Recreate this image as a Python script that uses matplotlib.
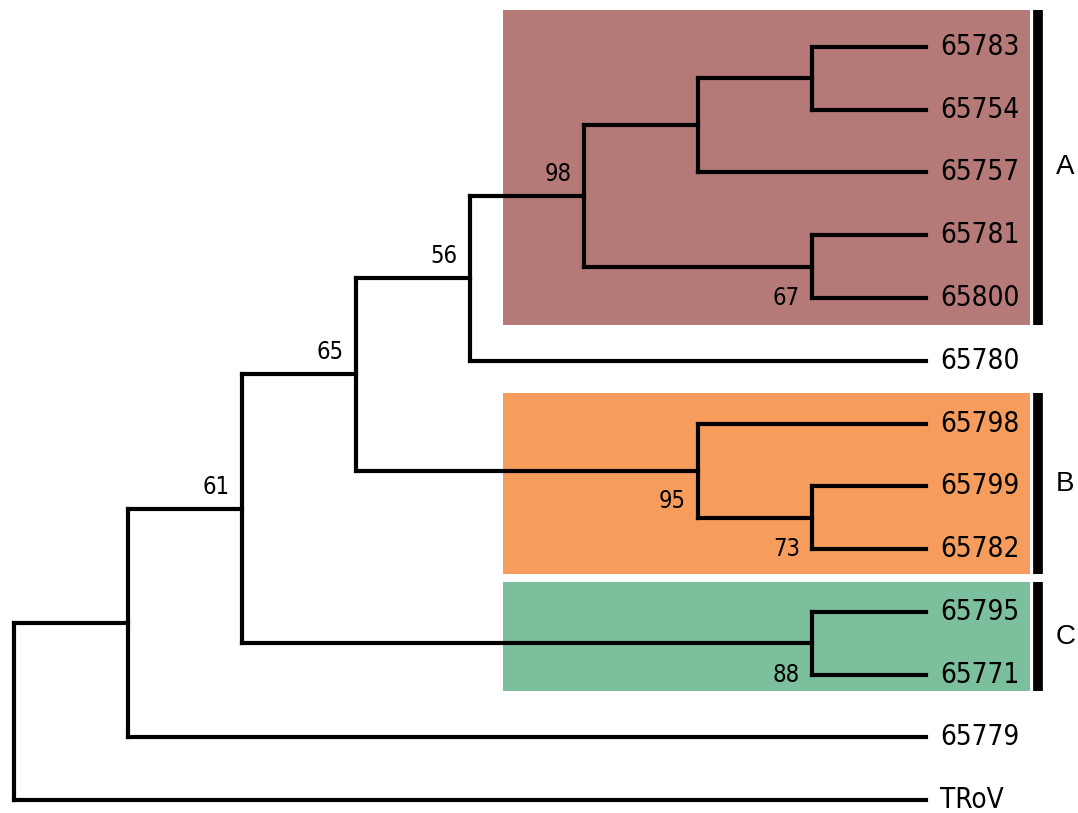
import matplotlib
matplotlib.use("Agg")
import matplotlib.pyplot as plt
from matplotlib import font_manager
from matplotlib.patches import Rectangle

# leaves, top to bottom
leaves = ["65783", "65754", "65757", "65781", "65800", "65780",
          "65798", "65799", "65782", "65795", "65771", "65779", "TRoV"]

# internal nodes: name -> (depth, children, support)
nodes = {
    "n8":   (7, ["65783", "65754"], None),
    "n6":   (6, ["n8", "65757"], None),
    "n7":   (7, ["65781", "65800"], "67"),
    "n5":   (5, ["n6", "n7"], "98"),
    "n4":   (4, ["n5", "65780"], "56"),
    "n9":   (7, ["65799", "65782"], "73"),
    "nB":   (6, ["65798", "n9"], "95"),
    "n3":   (3, ["n4", "nB"], "65"),
    "nC":   (7, ["65795", "65771"], "88"),
    "n2":   (2, ["n3", "nC"], "61"),
    "n1":   (1, ["n2", "65779"], None),
    "root": (0, ["n1", "TRoV"], None),
}
leaf_depth = 8

# support label style: "above" = over the incoming branch, "below" = left of node
label_pos = {"61": "above", "65": "above", "56": "above", "98": "above",
             "67": "below", "73": "below", "88": "below", "95": "below"}
label_dy = {"95": -0.27}

# highlighted clades: name, first leaf row, last leaf row, colour
clades = [("A", -0.59, 4.43, "#b57a77"),
          ("B", 5.52, 8.40, "#f69c5d"),
          ("C", 8.52, 10.27, "#7cbf9d")]

X0, DX = 14, 114
Y0, DY = 47, 62.75
LW = 3.0

# pick a narrow face if one is installed, otherwise plain Liberation Sans
narrow_fp = None
for f in font_manager.fontManager.ttflist:
    n = (f.name + " " + f.fname).lower()
    if ("narrow" in n or "condensed" in n) and "bold" not in n \
            and "italic" not in n and "oblique" not in n:
        narrow_fp = f.fname
        break
if narrow_fp:
    lab_font = dict(fontproperties=font_manager.FontProperties(fname=narrow_fp))
    LEAF_FS, SUP_FS = 20, 17
else:
    lab_font = dict(family=["Liberation Sans", "DejaVu Sans"])
    LEAF_FS, SUP_FS = 18, 15

fig = plt.figure(figsize=(10.78, 8.13), dpi=100)
ax = fig.add_axes([0, 0, 1, 1])
ax.set_xlim(0, 1078)
ax.set_ylim(813, 0)
ax.axis("off")

pos = {}
for i, lf in enumerate(leaves):
    pos[lf] = (X0 + leaf_depth * DX, Y0 + i * DY)


def place(name):
    if name in pos:
        return pos[name]
    d, ch, _ = nodes[name]
    ys = [place(c)[1] for c in ch]
    pos[name] = (X0 + d * DX, sum(ys) / len(ys))
    return pos[name]


place("root")

# clade boxes and bars
box_x0 = X0 + 4.29 * DX
box_x1 = 1030
for lab, r0, r1, col in clades:
    y0 = Y0 + r0 * DY
    y1 = Y0 + r1 * DY
    ax.add_patch(Rectangle((box_x0, y0), box_x1 - box_x0, y1 - y0,
                           facecolor=col, edgecolor="none", zorder=0))
    ax.plot([1038, 1038], [y0, y1], color="black", lw=7, solid_capstyle="butt")
    ax.text(1056, (y0 + y1) / 2, lab, fontsize=20, va="center", ha="left",
            family=["Liberation Sans", "DejaVu Sans"])

# branches
for name, (d, ch, sup) in nodes.items():
    x, y = pos[name]
    cys = [pos[c][1] for c in ch]
    ax.plot([x, x], [min(cys), max(cys)], color="black", lw=LW,
            solid_capstyle="projecting")
    for c in ch:
        cx, cy = pos[c]
        ax.plot([x, cx], [cy, cy], color="black", lw=LW,
                solid_capstyle="projecting")

# leaf labels
for lf in leaves:
    x, y = pos[lf]
    ax.text(x + 14, y, lf, fontsize=LEAF_FS, va="center", ha="left", **lab_font)

# support values
for name, (d, ch, sup) in nodes.items():
    if sup is None:
        continue
    x, y = pos[name]
    if label_pos[sup] == "above":
        ax.text(x - 12, y - 10, sup, fontsize=SUP_FS, ha="right", va="bottom",
                **lab_font)
    else:
        ly = pos[ch[-1]][1] + label_dy.get(sup, 0) * DY
        ax.text(x - 12, ly, sup, fontsize=SUP_FS, ha="right", va="center",
                **lab_font)

fig.savefig("out.png", dpi=100)
